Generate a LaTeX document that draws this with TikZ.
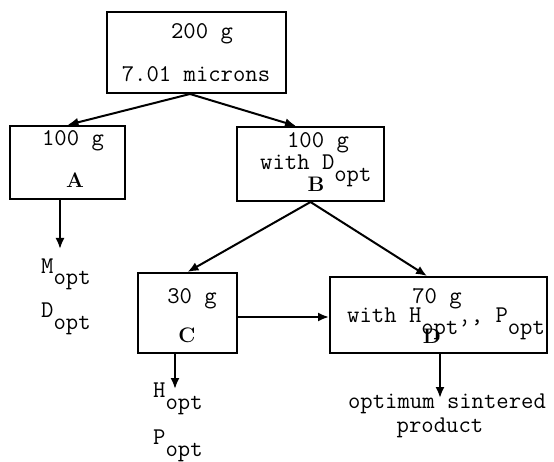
\documentclass[tikz,border=0pt]{standalone}
\usetikzlibrary{arrows.meta}
\newcommand\lowr[1]{\raisebox{-0.5em}{#1}}
\tikzset{
  box/.style={draw, line width=2pt, inner sep=0pt},
  lbl/.style={inner sep=0pt, font=\fontsize{24}{24}\selectfont\ttfamily},
  bl/.style={inner sep=0pt, font=\fontsize{21}{21}\selectfont\rmfamily\bfseries},
  conn/.style={line width=2pt, -{Latex[length=11pt,width=9pt]}}
}
\begin{document}
\begin{tikzpicture}[x=1pt,y=-1pt]
\useasboundingbox (0,0) rectangle (554,462);
% boxes
\node[box, minimum width=179pt, minimum height=81pt] (top) at (196.5,52.5) {};
\node[box, minimum width=115pt, minimum height=73pt] (A) at (67.5,162.5) {};
\node[box, minimum width=147pt, minimum height=74pt] (B) at (310.5,164) {};
\node[box, minimum width=99pt, minimum height=80pt] (C) at (187.5,313) {};
\node[box, minimum width=217pt, minimum height=76pt] (D) at (438.5,315) {};
% texts
\node[lbl, anchor=base] (t1) at (202,39) {200 g};
\node[lbl, anchor=base] (t2) at (196,82) {7.01 microns};
\node[lbl, anchor=base] (a1) at (73,146) {100 g};
\node[bl, anchor=base] (a2) at (75,188) {A};
\node[lbl, anchor=base] (b1) at (318,148) {100 g};
\node[lbl, anchor=base west] (b2) at (260,170) {with D\lowr{opt}};
\node[bl, anchor=base] (b3) at (316,192) {B};
\node[lbl, anchor=base] (c1) at (192,303) {30 g};
\node[bl, anchor=base] (c2) at (187,342) {C};
\node[lbl, anchor=base] (d1) at (437,303) {70 g};
\node[lbl, anchor=base west] (d2) at (347,323) {with H\lowr{opt’}, P\lowr{opt}};
\node[bl, anchor=base] (d3) at (432,343) {D};
\node[lbl, anchor=base west] (m1) at (41,273) {M\lowr{opt}};
\node[lbl, anchor=base west] (m2) at (41,317) {D\lowr{opt}};
\node[lbl, anchor=base west] (h1) at (153,397) {H\lowr{opt}};
\node[lbl, anchor=base west] (h2) at (153,444) {P\lowr{opt}};
\node[lbl, anchor=base] (o1) at (447,408) {optimum sintered};
\node[lbl, anchor=base] (o2) at (440,432) {product};
% connectors
\draw[conn] ([xshift=-6.5pt]top.south) -- (A.north);
\draw[conn] ([xshift=-6.5pt]top.south) -- ([xshift=-14.5pt]B.north);
\draw[conn] (B.south) -- (C.north);
\draw[conn] (B.south) -- ([xshift=-11.5pt]D.north);
\draw[conn] ([yshift=-4pt]C.east) -- ([yshift=-4pt]C.east -| D.west);
\draw[conn] ([xshift=-7.5pt]A.south) -- ++(0,49);
\draw[conn] ([xshift=-12.5pt]C.south) -- ++(0,35);
\draw[conn] ([xshift=1.5pt]D.south) -- ++(0,44);
\end{tikzpicture}
\end{document}
